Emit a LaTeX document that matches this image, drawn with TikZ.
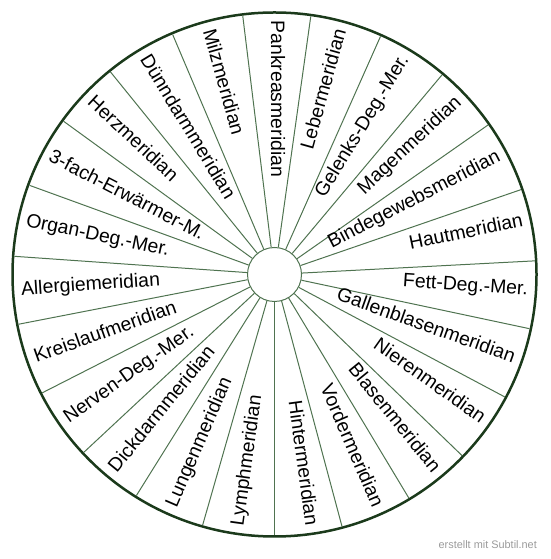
\documentclass[tikz,border=0pt]{standalone}
\usepackage{fontspec}
\setmainfont{Liberation Sans}
\definecolor{spoke}{HTML}{4F7350}
\definecolor{rim}{HTML}{1B3A1B}
\definecolor{wmgray}{HTML}{9A9A9A}
\begin{document}
\begin{tikzpicture}[x=1pt,y=1pt,
  lab/.style={font=\fontsize{19.4}{20}\selectfont, inner sep=0pt, text height=0.72em, text depth=0.04em},
  spokeline/.style={draw=spoke, line width=1pt}]
\useasboundingbox (0,0) rectangle (550,559);
\coordinate (c) at (274.5,284.5);
\node[circle, draw=rim, line width=2.5pt, minimum size=524pt, inner sep=0pt] (outer) at (c) {};
\node[circle, draw=spoke, line width=1pt, minimum size=54pt, inner sep=0pt] (inner) at (c) {};
\foreach \k in {0,...,22} {
  \pgfmathsetmacro\a{270+\k*360/23}
  \draw[spokeline, shorten >=2.6pt] (inner.\a) -- (outer.\a);
}
\foreach \t [count=\i from 0] in {Pankreasmeridian,Lebermeridian,Gelenks-Deg.-Mer.,Magenmeridian,Bindegewebsmeridian,Hautmeridian,Fett-Deg.-Mer.,Gallenblasenmeridian,Nierenmeridian,Blasenmeridian,Vordermeridian,Hintermeridian,Lymphmeridian,Lungenmeridian,Dickdarmmeridian,Nerven-Deg.-Mer.,Kreislaufmeridian,Allergiemeridian,Organ-Deg.-Mer.,3-fach-Erwärmer-M.,Herzmeridian,Dünndarmmeridian,Milzmeridian} {
  \pgfmathsetmacro\a{90-\i*360/23}
  \pgfmathsetmacro\b{\a+180}
  \ifnum\i>0
    \ifnum\i<12
      \node[lab, rotate=\a, anchor=east] (l\i) at ([shift={(\a:254)}]c) {\t};
    \else
      \node[lab, rotate=\b, anchor=west] (l\i) at ([shift={(\a:254)}]c) {\t};
    \fi
  \else
    \node[lab, rotate=\b, anchor=west] (l\i) at ([shift={(\a:254)}]c) {\t};
  \fi
}
\node[font=\fontsize{10.9}{12}\selectfont, text=wmgray, anchor=east, inner sep=0pt] (wm) at (537,14) {erstellt mit Subtil.net};
\end{tikzpicture}
\end{document}
